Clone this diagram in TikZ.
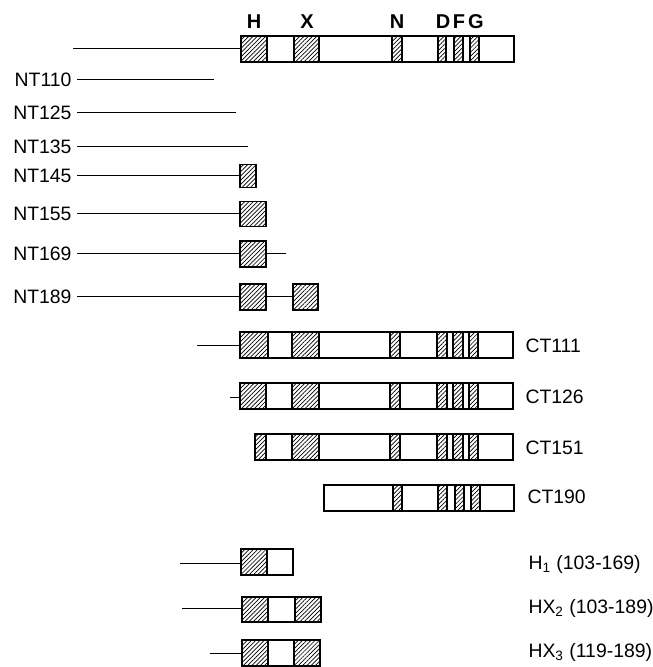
\documentclass[tikz,border=0pt]{standalone}
\usepackage{fontspec}
\setmainfont{Liberation Sans}
\usetikzlibrary{patterns.meta}

\begin{document}
\begin{tikzpicture}[x=.5pt,y=-.5pt,line width=.5pt,
  bar/.style={draw,line width=.7pt,fill=white},
  dom/.style={draw,line width=.7pt,pattern={Lines[angle=45,distance=1.5pt,line width=.35pt]}},
  lab/.style={font=\fontsize{9.7}{11}\selectfont,inner sep=0pt},
  mot/.style={font=\fontsize{10}{12}\selectfont\bfseries,inner sep=0pt}]
\useasboundingbox (0,0) rectangle (652,667);
\coordinate (full) at (73,49);
\coordinate (fullb) at (241,49);
\draw (full)--(fullb);
\draw[bar] (241,36) rectangle (514,62);
\foreach \a/\b in {241/267,294/319,392/402,438/446,454/463,470/479}{\draw[dom] (\a,36) rectangle (\b,62);}
\foreach \x/\lab in {254/H,307/X,397/N,443/D,459/F,476/G}{\node[mot] (m\lab) at (\x,22){\lab};}
\foreach \y/\e/\lab in {80/214/NT110,113/236/NT125,147/248/NT135}{
  \node[lab,anchor=east] (\lab) at (72,\y){\lab};
  \coordinate (\lab e) at (\e,\y);
  \draw ([xshift=2.5pt]\lab.east)--(\lab e);}
\foreach \y/\r/\h/\lab in {176/256/11.5/NT145,214/266/12.5/NT155,254/266/13/NT169,297/266/13/NT189}{
  \node[lab,anchor=east] (\lab) at (72,\y){\lab};
  \coordinate (\lab b) at (240,\y);
  \draw ([xshift=2.5pt]\lab.east)--(\lab b);
  \draw[dom] (240,{\y-\h}) rectangle (\r,{\y+\h});}
\coordinate (NT169t) at (286,254);
\draw (266,254)--(NT169t);
\coordinate (NT189x) at (293,297);
\draw (266,297)--(NT189x);
\draw[dom] (293,284) rectangle (318,310);
\foreach \y/\l/\h/\lab in {345/240/268/CT111,396/240/266/CT126,447/255/266/CT151}{
  \draw[bar] (\l,{\y-13}) rectangle (513,{\y+13});
  \draw[dom] (\l,{\y-13}) rectangle (\h,{\y+13});
  \foreach \a/\b in {292/319,390/400,437/447,453/463,469/478}{\draw[dom] (\a,{\y-13}) rectangle (\b,{\y+13});}
  \node[lab,anchor=west] (\lab) at (525,{\y+1}){\lab};}
\draw[bar] (324,485) rectangle (514,511);
\foreach \a/\b in {393/402,438/447,455/464,471/480}{\draw[dom] (\a,485) rectangle (\b,511);}
\node[lab,anchor=west] (CT190) at (527,497){CT190};
\coordinate (CT111s) at (197,345);
\draw (CT111s)--(240,345);
\coordinate (CT126s) at (230,397);
\draw (CT126s)--(240,397);
\draw[bar] (241,549) rectangle (293,575);
\draw[dom] (241,549) rectangle (267,575);
\coordinate (H1s) at (180,563);
\draw (H1s)--(241,563);
\node[lab,anchor=west] (H1) at (528,564){H\textsubscript{1} (103-169)};
\draw[bar] (242,597) rectangle (321,622);
\foreach \a/\b in {242/268,295/321}{\draw[dom] (\a,597) rectangle (\b,622);}
\coordinate (HX2s) at (182,608);
\draw (HX2s)--(242,608);
\node[lab,anchor=west] (HX2) at (528,608){HX\textsubscript{2} (103-189)};
\draw[bar] (242,640) rectangle (320,666);
\foreach \a/\b in {242/268,294/320}{\draw[dom] (\a,640) rectangle (\b,666);}
\coordinate (HX3s) at (210,653);
\draw (HX3s)--(242,653);
\node[lab,anchor=west] (HX3) at (528,652){HX\textsubscript{3} (119-189)};
\end{tikzpicture}
\end{document}
